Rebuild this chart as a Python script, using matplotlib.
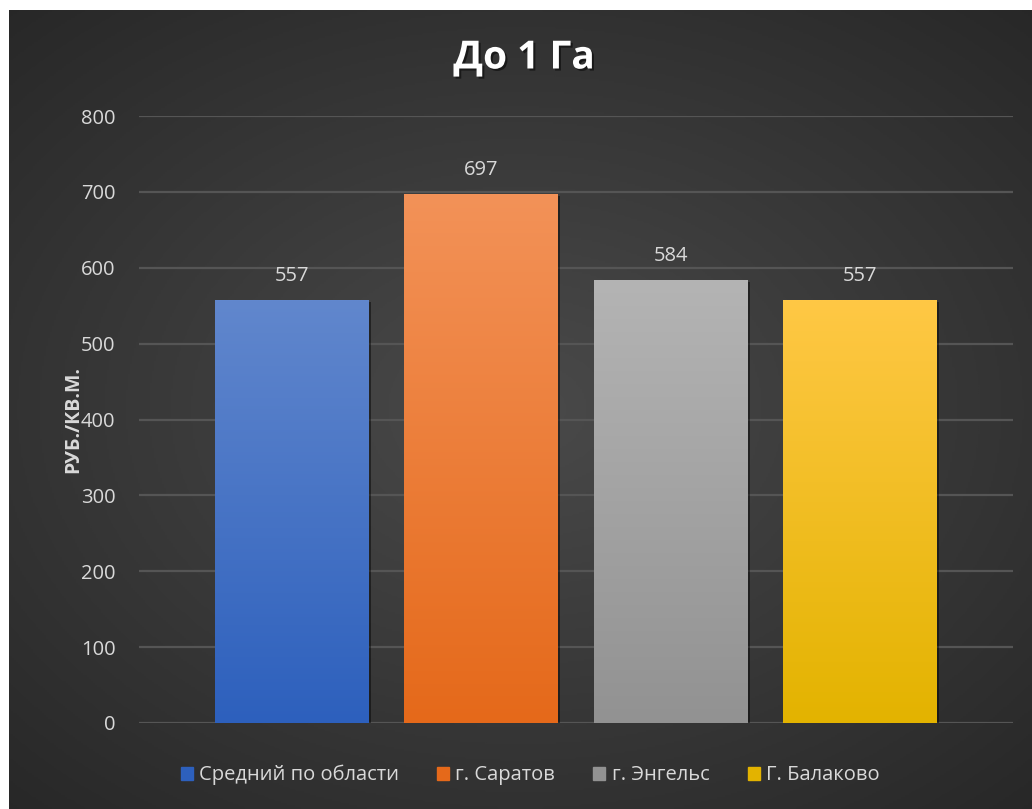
import matplotlib.pyplot as plt
import matplotlib.patheffects as pe
from matplotlib.colors import LinearSegmentedColormap
import numpy as np

plt.rcParams['font.family'] = ['Open Sans', 'DejaVu Sans']

# data
categories = ['Средний по области', 'г. Саратов', 'г. Энгельс', 'Г. Балаково']
values = [557, 697, 584, 557]
top_colors = ['#6187cd', '#f39258', '#b4b4b4', '#ffc845']
bottom_colors = ['#2d60bd', '#e5691a', '#929292', '#e3b300']
yticks = [0, 100, 200, 300, 400, 500, 600, 700, 800]

fig = plt.figure(figsize=(10.32, 8.09), dpi=100)
fig.patch.set_facecolor('white')

# dark radial background (leaves the thin white strip top/left)
bg = fig.add_axes([9 / 1032, 0, 1 - 9 / 1032, 1 - 10 / 809])
bg.set_axis_off()
yy, xx = np.mgrid[0:1:400j, 0:1:500j]
r = np.sqrt(((xx - 0.5) / 0.75) ** 2 + ((yy - 0.5) / 0.7) ** 2)
shade = np.clip(1 - r, 0, 1)
bg_cmap = LinearSegmentedColormap.from_list('bg', ['#272727', '#4a4a4a'])
bg.imshow(shade, cmap=bg_cmap, aspect='auto', extent=[0, 1, 0, 1], vmin=0, vmax=1)

ax = fig.add_axes([139 / 1032, 1 - 723 / 809, 874 / 1032, (723 - 116) / 809])
ax.set_facecolor('none')

x = np.arange(len(categories))
bars = ax.bar(x, values, width=0.813, zorder=3)

grad = np.linspace(0, 1, 256).reshape(-1, 1)
for b, c1, c2 in zip(bars, top_colors, bottom_colors):
    cm = LinearSegmentedColormap.from_list('g', [c2, c1])
    b.set_facecolor(c2)
    b.set_path_effects([pe.SimplePatchShadow(offset=(1.5, -1.5), alpha=0.45, shadow_rgbFace='black'), pe.Normal()])
    im = ax.imshow(grad, cmap=cm, aspect='auto', origin='lower', zorder=4,
                   extent=[b.get_x(), b.get_x() + b.get_width(), 0, b.get_height()])
    im.set_clip_path(b)

for xi, v in zip(x, values):
    ax.annotate(str(v), (xi, v), xytext=(0, 10), textcoords='offset points',
                ha='center', va='bottom', color='#d9d9d9', fontsize=14.5, zorder=5)

ax.set_xlim(-0.808, 3.808)
ax.set_ylim(0, 800)
ax.set_yticks(yticks)
ax.set_xticks([])
ax.tick_params(axis='y', length=0, pad=17, labelsize=14.5, labelcolor='#d9d9d9')
ax.grid(axis='y', color='#555555', linewidth=1.6, zorder=0)
for s in ax.spines.values():
    s.set_visible(False)

ax.set_ylabel('РУБ./КВ.М.', fontsize=14, fontweight='bold', color='#d9d9d9')
ax.yaxis.set_label_coords(-0.064, 0.5)

fig.text(524 / 1032, 1 - 58 / 809, 'До 1 Га', ha='center', va='center', fontsize=28,
         fontweight='bold', color='white',
         path_effects=[pe.withSimplePatchShadow(offset=(1.5, -1.5), alpha=0.5, shadow_rgbFace='black')])

handles = [plt.Rectangle((0, 0), 1, 1, color=c) for c in bottom_colors]
leg = fig.legend(handles, categories, loc='center', bbox_to_anchor=(530 / 1032, 1 - 775 / 809),
                 ncol=4, frameon=False, fontsize=14.5, handlelength=0.6, handleheight=0.6,
                 handletextpad=0.3, columnspacing=1.9)
for t in leg.get_texts():
    t.set_color('#d9d9d9')

fig.savefig('out.png', dpi=100, facecolor=fig.get_facecolor())
